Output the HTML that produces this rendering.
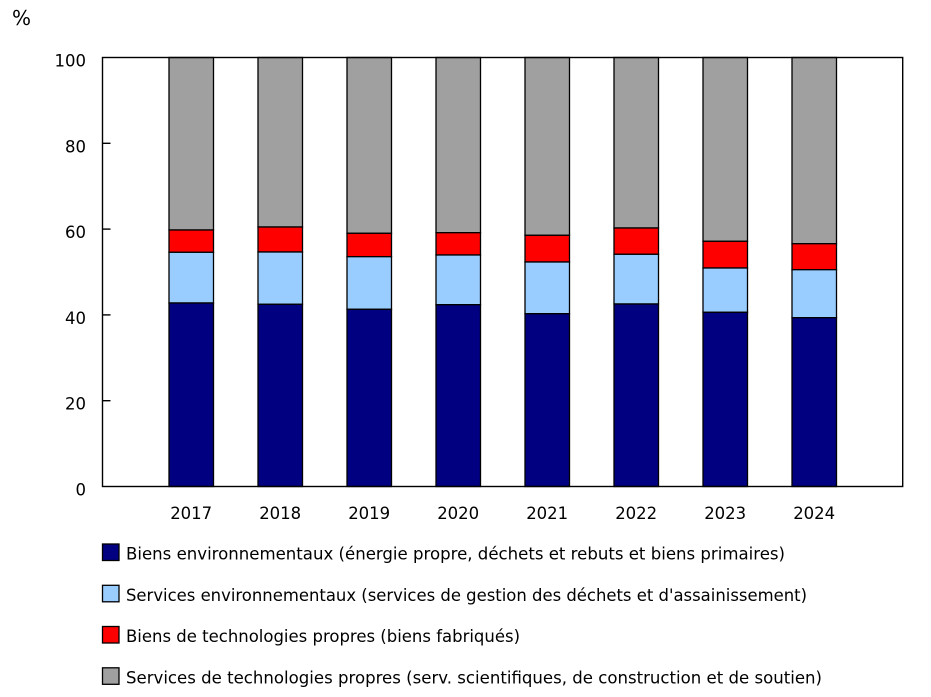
<!DOCTYPE html>
<html><head><meta charset="utf-8"><style>
html,body{margin:0;padding:0;background:#fff;}
svg{display:block;}
text{font-family:"DejaVu Sans","Liberation Sans",sans-serif;font-size:16.5px;fill:#000;}
</style></head><body>
<svg width="931" height="697" viewBox="0 0 931 697" xmlns="http://www.w3.org/2000/svg">
<rect x="0" y="0" width="931" height="697" fill="#fff"/>
<text x="12" y="25" style="font-size:20px">%</text>
<!-- y labels -->
<g text-anchor="end">
<text x="86" y="66.5">100</text>
<text x="86" y="152.3">80</text>
<text x="86" y="238.1">60</text>
<text x="86" y="323.9">40</text>
<text x="86" y="409.7">20</text>
<text x="86" y="495.5">0</text>
</g>
<!-- bars -->
<g stroke="#000" stroke-width="1.3">
<!-- 2017 -->
<rect x="169" y="57.5" width="44.5" height="172.5" fill="#A0A0A0"/>
<rect x="169" y="230" width="44.5" height="22.3" fill="#FF0000"/>
<rect x="169" y="252.3" width="44.5" height="50.7" fill="#99CCFF"/>
<rect x="169" y="303" width="44.5" height="183.5" fill="#000080"/>
<!-- 2018 -->
<rect x="258" y="57.5" width="44.5" height="169.5" fill="#A0A0A0"/>
<rect x="258" y="227" width="44.5" height="25" fill="#FF0000"/>
<rect x="258" y="252" width="44.5" height="52.3" fill="#99CCFF"/>
<rect x="258" y="304.3" width="44.5" height="182.2" fill="#000080"/>
<!-- 2019 -->
<rect x="347" y="57.5" width="44.5" height="175.8" fill="#A0A0A0"/>
<rect x="347" y="233.3" width="44.5" height="23.4" fill="#FF0000"/>
<rect x="347" y="256.7" width="44.5" height="52.6" fill="#99CCFF"/>
<rect x="347" y="309.3" width="44.5" height="177.2" fill="#000080"/>
<!-- 2020 -->
<rect x="436" y="57.5" width="44.5" height="175.2" fill="#A0A0A0"/>
<rect x="436" y="232.7" width="44.5" height="22.3" fill="#FF0000"/>
<rect x="436" y="255" width="44.5" height="49.7" fill="#99CCFF"/>
<rect x="436" y="304.7" width="44.5" height="181.8" fill="#000080"/>
<!-- 2021 -->
<rect x="525" y="57.5" width="44.5" height="177.8" fill="#A0A0A0"/>
<rect x="525" y="235.3" width="44.5" height="26.7" fill="#FF0000"/>
<rect x="525" y="262" width="44.5" height="51.7" fill="#99CCFF"/>
<rect x="525" y="313.7" width="44.5" height="172.8" fill="#000080"/>
<!-- 2022 -->
<rect x="614" y="57.5" width="44.5" height="170.5" fill="#A0A0A0"/>
<rect x="614" y="228" width="44.5" height="26.3" fill="#FF0000"/>
<rect x="614" y="254.3" width="44.5" height="49.7" fill="#99CCFF"/>
<rect x="614" y="304" width="44.5" height="182.5" fill="#000080"/>
<!-- 2023 -->
<rect x="703" y="57.5" width="44.5" height="183.8" fill="#A0A0A0"/>
<rect x="703" y="241.3" width="44.5" height="26.7" fill="#FF0000"/>
<rect x="703" y="268" width="44.5" height="44.3" fill="#99CCFF"/>
<rect x="703" y="312.3" width="44.5" height="174.2" fill="#000080"/>
<!-- 2024 -->
<rect x="792" y="57.5" width="44.5" height="186.2" fill="#A0A0A0"/>
<rect x="792" y="243.7" width="44.5" height="26" fill="#FF0000"/>
<rect x="792" y="269.7" width="44.5" height="48" fill="#99CCFF"/>
<rect x="792" y="317.7" width="44.5" height="168.8" fill="#000080"/>
</g>
<!-- frame -->
<rect x="102.5" y="57.5" width="800.2" height="429" fill="none" stroke="#000" stroke-width="1.4"/>
<g stroke="#000" stroke-width="1.4">
<line x1="102.5" y1="143.3" x2="110.5" y2="143.3"/>
<line x1="102.5" y1="229.1" x2="110.5" y2="229.1"/>
<line x1="102.5" y1="314.9" x2="110.5" y2="314.9"/>
<line x1="102.5" y1="400.7" x2="110.5" y2="400.7"/>
</g>
<!-- x labels -->
<g text-anchor="middle">
<text x="191.2" y="519">2017</text>
<text x="280.2" y="519">2018</text>
<text x="369.2" y="519">2019</text>
<text x="458.2" y="519">2020</text>
<text x="547.2" y="519">2021</text>
<text x="636.2" y="519">2022</text>
<text x="725.2" y="519">2023</text>
<text x="814.2" y="519">2024</text>
</g>
<!-- legend -->
<g stroke="#000" stroke-width="1.3">
<rect x="102.5" y="544" width="16.5" height="16.5" fill="#000080"/>
<rect x="102.5" y="585.3" width="16.5" height="16.5" fill="#99CCFF"/>
<rect x="102.5" y="626.5" width="16.5" height="16.5" fill="#FF0000"/>
<rect x="102.5" y="667.8" width="16.5" height="16.5" fill="#A0A0A0"/>
</g>
<text x="126" y="559.5" textLength="659" lengthAdjust="spacingAndGlyphs">Biens environnementaux (énergie propre, déchets et rebuts et biens primaires)</text>
<text x="126" y="600.8" textLength="681" lengthAdjust="spacingAndGlyphs">Services environnementaux (services de gestion des déchets et d'assainissement)</text>
<text x="126" y="642" textLength="394" lengthAdjust="spacingAndGlyphs">Biens de technologies propres (biens fabriqués)</text>
<text x="126" y="683.3" textLength="696" lengthAdjust="spacingAndGlyphs">Services de technologies propres (serv. scientifiques, de construction et de soutien)</text>
</svg>
</body></html>
